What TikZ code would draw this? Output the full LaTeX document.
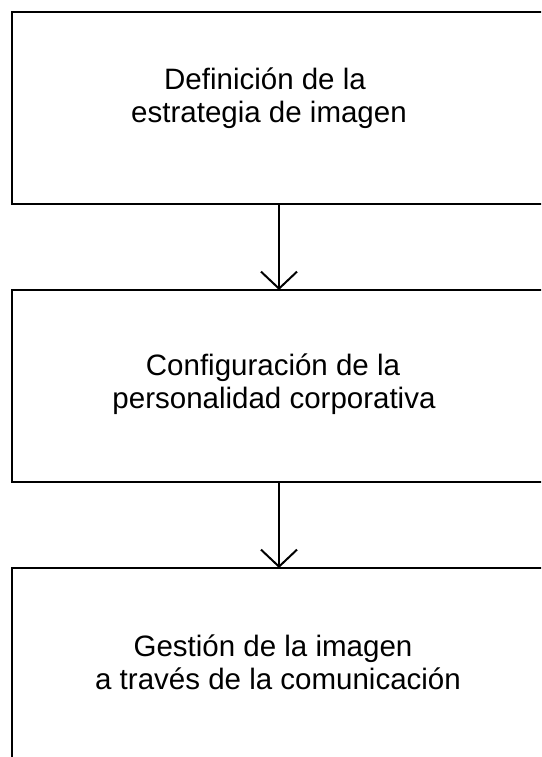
\documentclass[tikz,border=0pt]{standalone}
\usepackage{fontspec}
\setmainfont{Liberation Sans}
\usetikzlibrary{arrows.meta}
\tikzset{
  box/.style={draw=black, line width=2pt, rectangle, minimum width=534pt, minimum height=192pt, inner sep=0pt, outer sep=0pt},
  lbl/.style={anchor=base, inner sep=0pt, font=\fontsize{29.5}{33}\selectfont},
  arr/.style={line width=2pt, -{Straight Barb[length=17pt, width=36pt, line width=2pt]}}
}
\begin{document}
\begin{tikzpicture}[x=1pt, y=-1pt]
\useasboundingbox (0,0) rectangle (541,757);
\clip (0,0) rectangle (541,757);
\node[box] (b1) at (279,108) {};
\node[box] (b2) at (279,386) {};
\node[box] (b3) at (279,664) {};
\node[lbl] (t1a) at (265,90) {Definición de la};
\node[lbl] (t1b) at (269,123) {estrategia de imagen};
\node[lbl] (t2a) at (273,375) {Configuración de la};
\node[lbl] (t2b) at (274,408) {personalidad corporativa};
\node[lbl] (t3a) at (273,656) {Gestión de la imagen};
\node[lbl] (t3b) at (278,689) {a través de la comunicación};
\draw[arr] (b1.south) -- (b2.north);
\draw[arr] (b2.south) -- (b3.north);
\end{tikzpicture}
\end{document}
